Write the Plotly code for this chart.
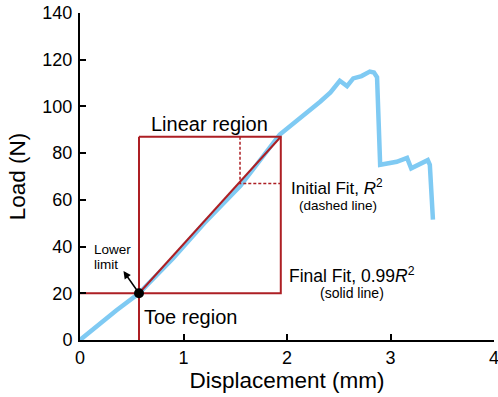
import plotly.graph_objects as go

# Load-displacement curve
disp = [0, 0.15, 0.35, 0.57, 0.9, 1.2, 1.55, 1.93, 2.13, 2.32, 2.42, 2.51, 2.58,
        2.64, 2.72, 2.80, 2.84, 2.87, 2.90, 2.96, 3.06, 3.16, 3.20, 3.36, 3.38, 3.41]
load = [0, 5.5, 12.6, 20, 35, 50, 66, 88, 95, 102, 106, 111, 108.7,
        112, 113, 114.9, 114.5, 112.5, 75, 75.5, 76.3, 78, 73.5, 77, 75, 51.5]

# Region boundaries
lower_x, lower_y = 0.57, 20
upper_x, upper_y = 1.94, 87
initial_x, initial_y = 1.546, 67
arrow_tip = (0.42, 29.5)

x_ticks = [0, 1, 2, 3, 4]
y_ticks = [0, 20, 40, 60, 80, 100, 120, 140]

BLUE = "#7fcaf3"
RED = "#ad1f24"
FONT = "Liberation Sans, Arial, sans-serif"

fig = go.Figure()

fig.add_trace(go.Scatter(x=disp, y=load, mode="lines",
                         line=dict(color=BLUE, width=4.5), hoverinfo="skip"))

# vertical line at lower limit (toe boundary) and horizontal line at 20 N
fig.add_trace(go.Scatter(x=[lower_x, lower_x], y=[0, upper_y], mode="lines",
                         line=dict(color=RED, width=2)))
fig.add_trace(go.Scatter(x=[0, upper_x, upper_x, lower_x], y=[lower_y, lower_y, upper_y, upper_y],
                         mode="lines", line=dict(color=RED, width=2)))
# initial fit dashed lines
fig.add_trace(go.Scatter(x=[initial_x, initial_x, upper_x], y=[upper_y, initial_y, initial_y],
                         mode="lines", line=dict(color=RED, width=1.5, dash="3px,2px")))
# final fit line
fig.add_trace(go.Scatter(x=[lower_x, upper_x], y=[lower_y, upper_y], mode="lines",
                         line=dict(color=RED, width=2)))
# lower limit marker
fig.add_trace(go.Scatter(x=[lower_x], y=[lower_y], mode="markers",
                         marker=dict(color="black", size=10)))

ann = []
ann.append(dict(x=arrow_tip[0], y=arrow_tip[1], ax=lower_x, ay=lower_y, xref="x", yref="y",
                axref="x", ayref="y", text="", showarrow=True, arrowhead=2, arrowsize=1,
                arrowwidth=1.5, arrowcolor="black", standoff=0, startstandoff=0))

def txt(x, y, s, size, xanchor="left", align="left"):
    ann.append(dict(x=x, y=y, xref="x", yref="y", text=s, showarrow=False,
                    xanchor=xanchor, yanchor="middle", align=align,
                    font=dict(family=FONT, size=size, color="black")))

txt(1.25, 92.5, "Linear region", 20, xanchor="center")
txt(0.6, 9.8, "Toe region", 20)
txt(0.12, 38.8, "Lower", 13.5)
txt(0.12, 32.3, "limit", 13.5)
txt(2.02, 65.5, "Initial Fit, <i>R</i><sup>2</sup>", 17)
txt(2.49, 57.4, "(dashed line)", 13.5, xanchor="center")
txt(2.0, 27.8, "Final Fit, 0.99<i>R</i><sup>2</sup>", 17.5)
txt(2.63, 20.1, "(solid line)", 14, xanchor="center")

fig.update_layout(
    width=498, height=397,
    margin=dict(l=80, r=4, t=13, b=57),
    paper_bgcolor="white", plot_bgcolor="white",
    showlegend=False,
    annotations=ann,
    font=dict(family=FONT, size=18, color="black"),
    xaxis=dict(range=[0, 4], tickvals=x_ticks, showgrid=False, zeroline=False,
               showline=True, linecolor="black", linewidth=2,
               ticks="inside", ticklen=6, tickwidth=2, tickcolor="black",
               ticklabeloverflow="allow", automargin=False,
               tickfont=dict(size=18), title=dict(text="Displacement (mm)", font=dict(size=22.5), standoff=4)),
    yaxis=dict(range=[0, 140], tickvals=y_ticks, showgrid=False, zeroline=False,
               showline=True, linecolor="black", linewidth=2,
               ticks="inside", ticklen=6, tickwidth=2, tickcolor="black",
               automargin=False, ticklabelstandoff=2,
               tickfont=dict(size=18), title=dict(text="Load (N)", font=dict(size=22.5), standoff=10)),
)

fig.write_html("out.html")
